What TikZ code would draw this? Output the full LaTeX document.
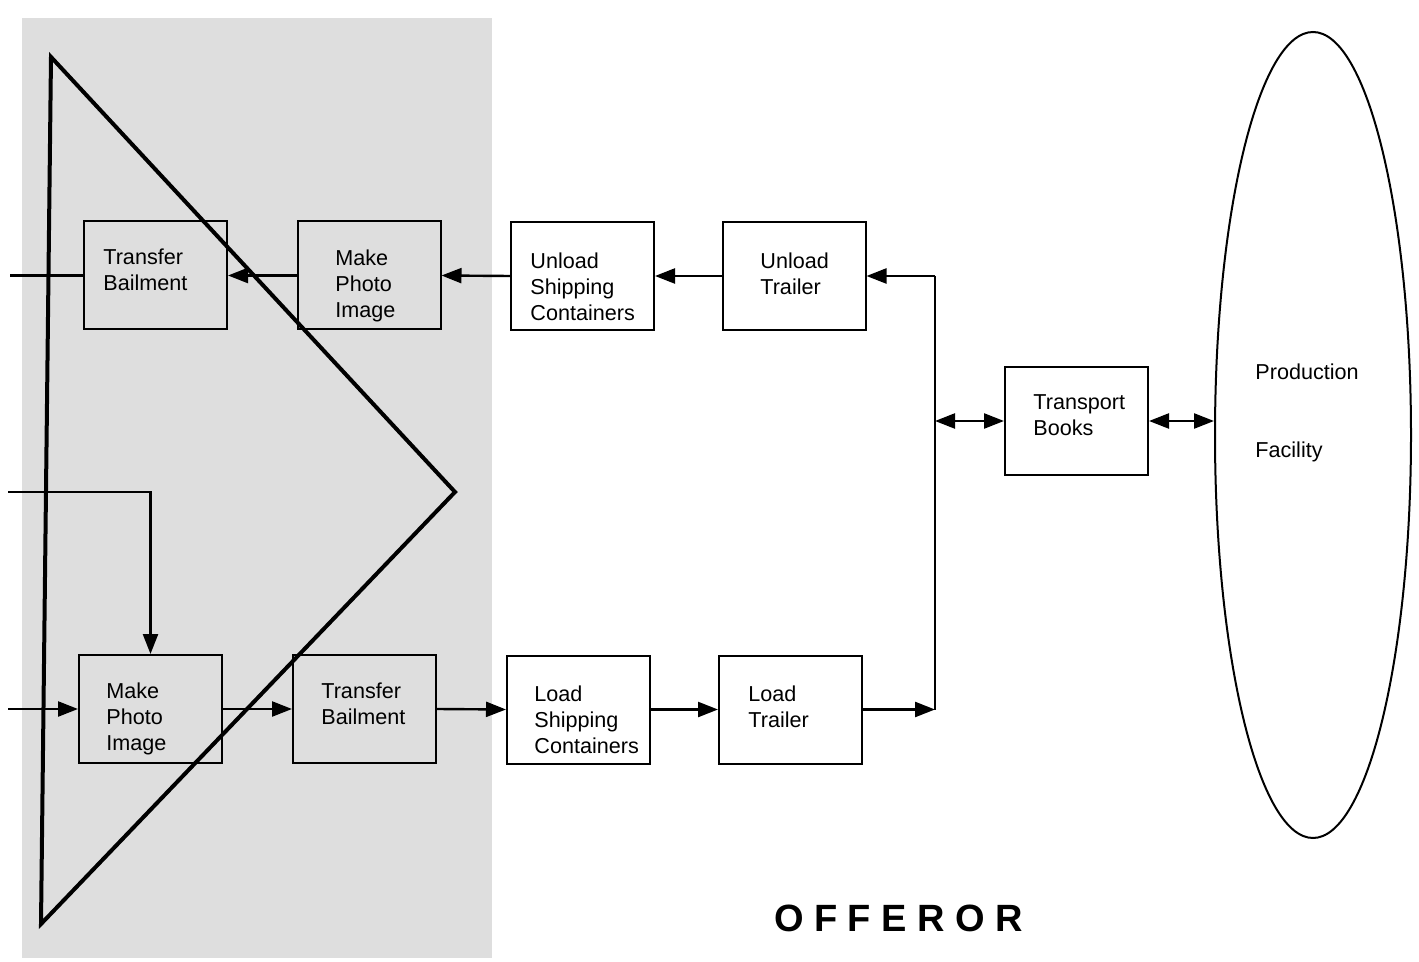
\documentclass[tikz,border=0pt]{standalone}
\usepackage{fontspec}
\setmainfont{Liberation Sans}
\usetikzlibrary{arrows.meta,shapes.geometric}
\begin{document}
\begin{tikzpicture}[x=0.5pt,y=-0.5pt,
  box/.style={draw,line width=1pt,minimum width=71.5pt,minimum height=54pt,inner sep=0pt},
  lbl/.style={anchor=north west,align=left,inner sep=0pt,font=\fontsize{10.8pt}{13pt}\selectfont},
  arr/.style={line width=1.2pt,-{Triangle[length=10pt,width=7.5pt]}},
  darr/.style={line width=1.2pt,{Triangle[length=10pt,width=7.5pt]}-{Triangle[length=10pt,width=7.5pt]}},
  conn/.style={line width=1.2pt},
  tri/.style={line width=2pt,line join=miter}]
\useasboundingbox (0,0) rectangle (1419,962);
% shaded region
\fill[black!13] (22,18) rectangle (492,958);
% triangle
\draw[tri] (51,57) -- (455,492) -- (41,924) -- cycle;
% boxes
\node[box] (tb1) at (155.5,275.5) {};
\node[box] (mp1) at (369,275.5) {};
\node[box] (us) at (582.5,276) {};
\node[box] (ut) at (794,276) {};
\node[box] (tbk) at (1076.5,421) {};
\node[box] (mp2) at (150.5,709) {};
\node[box] (tb2) at (364.5,709) {};
\node[box] (ls) at (578.5,709.5) {};
\node[box] (lt) at (790.5,709.5) {};
\node[draw,ellipse,line width=1pt,minimum width=98pt,minimum height=403pt,inner sep=0pt] (pf) at (1313,435) {};
% labels
\node[lbl] (tb1t) at (103,248) {Transfer\\Bailment};
\node[lbl] (mp1t) at (335,249) {Make\\Photo\\Image};
\node[lbl] (ust) at (530,252) {Unload\\Shipping\\Containers};
\node[lbl] (utt) at (760,252) {Unload\\Trailer};
\node[lbl] (tbkt) at (1033,394) {Transport\\Books};
\node[lbl] (mp2t) at (106,682) {Make\\Photo\\Image};
\node[lbl] (tb2t) at (321,682) {Transfer\\Bailment};
\node[lbl] (lst) at (534,685) {Load\\Shipping\\Containers};
\node[lbl] (ltt) at (748,685) {Load\\Trailer};
\node[lbl] (pft1) at (1255,363) {Production};
\node[lbl] (pft2) at (1255,441) {Facility};
\node[font=\fontsize{19pt}{19pt}\selectfont\bfseries] (off) at (898.5,918.5)
  {O\hspace{5.2pt}F\hspace{5.2pt}F\hspace{5.2pt}E\hspace{5.2pt}R\hspace{5.2pt}O\hspace{5.2pt}R};
% coordinates
\coordinate (inT) at (10,275.5);
\coordinate (inB) at (8,709);
\coordinate (fd) at (8,492);
\coordinate (jt) at (935,276);
\coordinate (jm) at (935,421);
\coordinate (jb) at (935,709.5);
% top row
\draw[conn] (tb1.west) -- (inT);
\draw[arr] (mp1.west) -- (tb1.east);
\draw[arr] (us.west) -- (mp1.east);
\draw[arr] (ut.west) -- (us.east);
\draw[arr] (jt) -- (ut.east);
\draw[conn] (jt) -- (jb);
\draw[darr] (jm) -- (tbk.west);
\draw[darr] (tbk.east) -- (tbk.east -| pf.west);
% bottom row
\draw[arr] (inB) -- (mp2.west);
\draw[arr] (fd) -| (mp2.north);
\draw[arr] (mp2.east) -- (tb2.west);
\draw[arr] (tb2.east) -- (ls.west);
\draw[arr] (ls.east) -- (lt.west);
\draw[arr] (lt.east) -- (jb);
\end{tikzpicture}
\end{document}
